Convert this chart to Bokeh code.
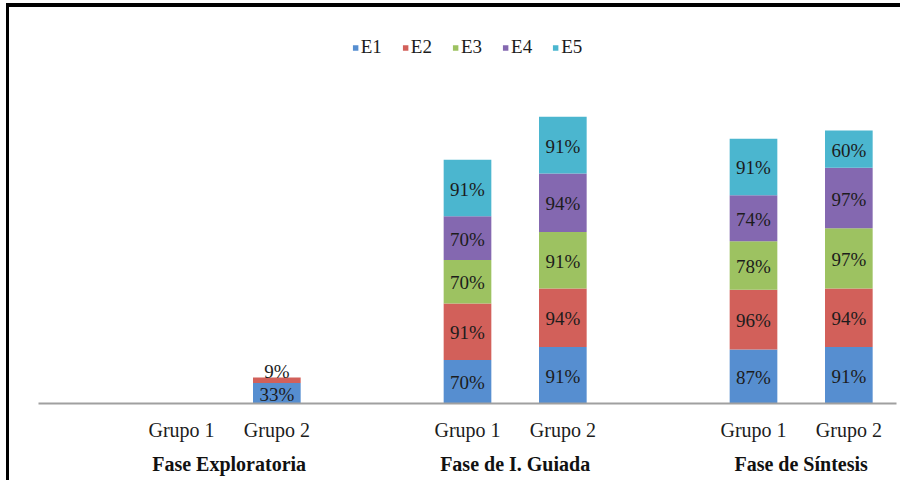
from bokeh.plotting import figure
from bokeh.models import ColumnDataSource, FixedTicker, LinearAxis, Range1d
from bokeh.embed import file_html
from bokeh.resources import INLINE
from bokeh.core.properties import value

# ---- data ----
phases = ["Fase Exploratoria", "Fase de I. Guiada", "Fase de Síntesis"]
groups = ["Grupo 1", "Grupo 2"]
series = ["E1", "E2", "E3", "E4", "E5"]
# order: Exploratoria G1, G2, I. Guiada G1, G2, Síntesis G1, G2
e1 = [0, 33, 70, 91, 87, 91]
e2 = [0, 9, 91, 94, 96, 94]
e3 = [0, 0, 70, 91, 78, 97]
e4 = [0, 0, 70, 94, 74, 97]
e5 = [0, 0, 91, 91, 91, 60]
colors = ["#568ED0", "#D2605A", "#9DC261", "#8468B0", "#4BB6CF"]

values = {"E1": e1, "E2": e2, "E3": e3, "E4": e4, "E5": e5}

# slot layout: each phase = one empty slot followed by its two groups
xs, sub_labels, group_ticks = [], {}, {}
for i, ph in enumerate(phases):
    group_ticks[3 * i + 2.0] = ph
    for j, g in enumerate(groups):
        xv = 3 * i + 1 + j + 0.5
        xs.append(xv)
        sub_labels[xv] = g

data = {"x": xs}
data.update(values)
src = ColumnDataSource(data)

p = figure(width=894, height=477, x_range=Range1d(0, 9), y_range=Range1d(0, 616),
           output_backend="svg", toolbar_location=None,
           min_border_left=29, min_border_right=7, min_border_top=13, min_border_bottom=81)
p.stylesheets = [
    ":host { margin-left: 6px; margin-top: 3px; "
    "border-left: 3px solid #000; border-top: 4px solid #000; }"
]
p.outline_line_color = None
p.background_fill_color = "white"
p.border_fill_color = "white"
p.xgrid.visible = False
p.ygrid.visible = False
p.yaxis.visible = False

p.vbar_stack(series, x="x", width=0.5, source=src, color=colors, line_color=None,
             legend_label=series)

# data labels (thin segments get their label lifted above the segment)
lx, ly, lt, loff = [], [], [], []
for k in range(len(xs)):
    base = 0
    for s in series:
        v = values[s][k]
        if v > 0:
            lx.append(xs[k])
            ly.append(base + v / 2)
            lt.append(f"{v}%")
            loff.append(-9 if v < 15 else 1)
        base += v
lab = ColumnDataSource(dict(x=lx, y=ly, t=lt, off=loff))
p.text(x="x", y="y", text="t", y_offset="off", source=lab,
       text_align="center", text_baseline="middle",
       text_font=value("Liberation Serif"), text_font_size="19px", text_color="#1c1c1c")

# sub-category axis (Grupo 1 / Grupo 2)
ax = p.xaxis[0]
ax.ticker = FixedTicker(ticks=xs)
ax.major_label_overrides = sub_labels
ax.axis_line_color = "#a0a0a0"
ax.axis_line_width = 2
ax.major_tick_line_color = None
ax.minor_tick_line_color = None
ax.major_label_text_font = "Liberation Serif"
ax.major_label_text_font_size = "20px"
ax.major_label_text_color = "#1c1c1c"
ax.major_label_standoff = 9

# phase axis
ax2 = LinearAxis(ticker=FixedTicker(ticks=list(group_ticks.keys())),
                 major_label_overrides=group_ticks)
ax2.axis_line_color = None
ax2.major_tick_line_color = None
ax2.minor_tick_line_color = None
ax2.major_label_text_font = "Liberation Serif"
ax2.major_label_text_font_style = "bold"
ax2.major_label_text_font_size = "20px"
ax2.major_label_text_color = "#111111"
ax2.major_label_standoff = 3
p.add_layout(ax2, "below")

lg = p.legend[0]
lg.orientation = "horizontal"
lg.location = "top_center"
lg.glyph_width = 7
lg.glyph_height = 7
lg.label_height = 20
lg.label_standoff = 2
lg.spacing = 20
lg.padding = 0
lg.margin = 16
lg.border_line_color = None
lg.background_fill_alpha = 0
lg.label_text_font = "Liberation Serif"
lg.label_text_font_size = "19px"
lg.label_text_color = "#1c1c1c"

open("out.html", "w").write(file_html(p, INLINE))
